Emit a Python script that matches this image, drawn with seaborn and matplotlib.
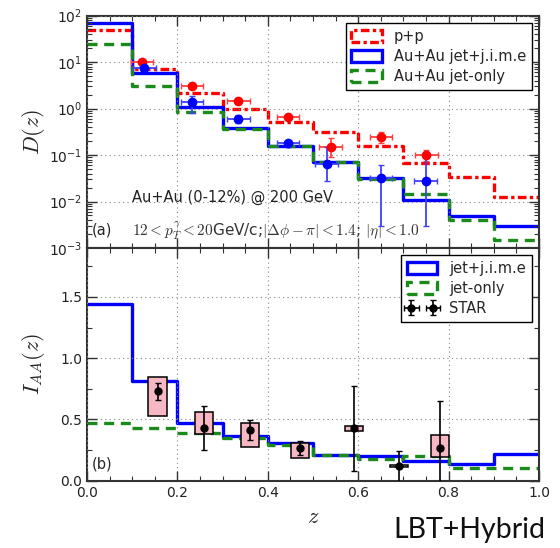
import numpy as np
import pandas as pd
import matplotlib
matplotlib.use("Agg")
import matplotlib.pyplot as plt
import seaborn as sns
from matplotlib.patches import Patch
from matplotlib.ticker import MultipleLocator, FormatStrFormatter, LogLocator, NullFormatter

# ---------------- data ----------------
bin_edges = [0.0, 0.1, 0.2, 0.3, 0.4, 0.5, 0.6, 0.7, 0.8, 0.9, 1.0]

# panel (a): D(z)
pp_D = [49, 7.0, 2.2, 1.0, 0.52, 0.32, 0.16, 0.066, 0.034, 0.0126]
auau_jime_D = [70, 5.7, 1.06, 0.375, 0.158, 0.070, 0.0315, 0.0108, 0.00495, 0.0029]
auau_jet_D = [24, 3.1, 0.85, 0.36, 0.155, 0.069, 0.030, 0.0143, 0.0040, 0.0015]

star_pp_z = [0.122, 0.232, 0.335, 0.445, 0.539, 0.650, 0.751]
star_pp_D = [10.0, 3.1, 1.45, 0.66, 0.148, 0.245, 0.100]
star_pp_lo = [1.2, 0.4, 0.15, 0.07, 0.057, 0.067, 0.026]
star_pp_hi = [1.5, 0.5, 0.2, 0.08, 0.086, 0.07, 0.029]

star_auau_z = [0.127, 0.232, 0.335, 0.445, 0.530, 0.650, 0.749]
star_auau_D = [7.3, 1.36, 0.59, 0.179, 0.063, 0.0315, 0.0275]
star_auau_lo = [1.0, 0.57, 0.10, 0.028, 0.0355, 0.0286, 0.0246]
star_auau_hi = [1.2, 0.52, 0.13, 0.016, 0.088, 0.0295, 0.0725]
star_zerr = 0.025

# panel (b): I_AA(z)
jime_IAA = [1.445, 0.813, 0.47, 0.362, 0.31, 0.212, 0.198, 0.158, 0.133, 0.22]
jet_IAA = [0.47, 0.433, 0.389, 0.351, 0.29, 0.207, 0.174, 0.201, 0.106, 0.106]

star_iaa_z = [0.156, 0.259, 0.361, 0.471, 0.591, 0.690, 0.781]
star_iaa = [0.731, 0.433, 0.41, 0.269, 0.43, 0.119, 0.269]
star_iaa_lo = [0.07, 0.18, 0.08, 0.062, 0.354, 0.20, 0.35]
star_iaa_hi = [0.066, 0.176, 0.082, 0.052, 0.342, 0.123, 0.378]
sys_lo = [0.525, 0.378, 0.274, 0.18, 0.402, 0.109, 0.188]
sys_hi = [0.846, 0.56, 0.473, 0.307, 0.446, 0.129, 0.37]
sys_width = 0.04

# ---------------- style ----------------
sns.set_theme(style="white")
plt.rcParams["font.family"] = ["DejaVu Sans"]
plt.rcParams["mathtext.fontset"] = "cm"

centers = [(a + b) / 2 for a, b in zip(bin_edges[:-1], bin_edges[1:])]

fig = plt.figure(figsize=(5.6, 5.48), dpi=100)
W, H = 560.0, 548.0
x0, x1 = 87.0, 539.0
ya0, ya1 = 15.5, 248.0
yb0, yb1 = 248.0, 480.5
ax1 = fig.add_axes([x0 / W, 1 - ya1 / H, (x1 - x0) / W, (ya1 - ya0) / H])
ax2 = fig.add_axes([x0 / W, 1 - yb1 / H, (x1 - x0) / W, (yb1 - yb0) / H], sharex=ax1)

RED = "#ff0000"
BLUE = "#0000ff"
GREEN = "#1a8a1a"
DASHDOT = (0, (2.6, 1.0, 1.0, 1.0))
DASH = (0, (3.0, 2.0))
LW = 2.4

def steps(ax, vals, color, ls, label):
    df = pd.DataFrame({"z": centers, "w": vals})
    sns.histplot(data=df, x="z", weights="w", bins=bin_edges, element="step",
                 fill=False, color=color, linewidth=LW, linestyle=ls, ax=ax,
                 label=label, legend=False)

# ---- panel (a) ----
steps(ax1, pp_D, RED, DASHDOT, "p+p")
steps(ax1, auau_jime_D, BLUE, "-", "Au+Au jet+j.i.m.e")
steps(ax1, auau_jet_D, GREEN, DASH, "Au+Au jet-only")
ax1.set_yscale("log")

ax1.errorbar(star_pp_z, star_pp_D, xerr=star_zerr, yerr=[star_pp_lo, star_pp_hi],
             fmt="o", color=RED, ms=6, elinewidth=1.3, capsize=2.5, ecolor=(1, 0.25, 0.25), zorder=5)
ax1.errorbar(star_auau_z, star_auau_D, xerr=star_zerr, yerr=[star_auau_lo, star_auau_hi],
             fmt="o", color=BLUE, ms=6, elinewidth=1.3, capsize=2.5, ecolor=(0.25, 0.25, 1), zorder=5)

ax1.set_xlim(0, 1.0)
ax1.set_ylim(1e-3, 1e2)
ax1.set_ylabel("$D(z)$", fontsize=16)
ax1.yaxis.set_label_coords(-0.088, 0.5)
ax1.set_xlabel("")
ax1.yaxis.set_major_locator(LogLocator(base=10, numticks=10))
ax1.yaxis.set_minor_locator(LogLocator(base=10, subs=np.arange(2, 10), numticks=20))
ax1.yaxis.set_minor_formatter(NullFormatter())

h1 = [Patch(facecolor="none", edgecolor=RED, linestyle=DASHDOT, linewidth=LW, label="p+p"),
      Patch(facecolor="none", edgecolor=BLUE, linestyle="-", linewidth=LW, label="Au+Au jet+j.i.m.e"),
      Patch(facecolor="none", edgecolor=GREEN, linestyle=DASH, linewidth=LW, label="Au+Au jet-only")]
leg1 = ax1.legend(handles=h1, loc="upper right", fontsize=10.5, frameon=True, fancybox=False,
                  edgecolor="black", framealpha=1, handlelength=2.1, handleheight=0.9,
                  borderaxespad=0.5, labelspacing=0.35)
leg1.get_frame().set_linewidth(1.0)

ax1.text(0.099, 0.219, "Au+Au (0-12%) @ 200 GeV", transform=ax1.transAxes,
         fontsize=10.5, va="center", ha="left", color="#222222")
ax1.text(0.011, 0.077, "(a)", transform=ax1.transAxes, fontsize=10.5, va="center", ha="left")
ax1.text(0.099, 0.077,
         r"$12 < p_T^{\gamma} < 20$GeV/c;$|\Delta\phi - \pi| < 1.4$; $|\eta| < 1.0$",
         transform=ax1.transAxes, fontsize=11, va="center", ha="left", color="#333333")

# ---- panel (b) ----
steps(ax2, jime_IAA, BLUE, "-", "jet+j.i.m.e")
steps(ax2, jet_IAA, GREEN, DASH, "jet-only")
ax2.bar(star_iaa_z, height=np.subtract(sys_hi, sys_lo), bottom=sys_lo, width=sys_width,
        color="#f7b8c4", edgecolor="black", linewidth=1.1, zorder=3)
ax2.errorbar(star_iaa_z, star_iaa, yerr=[star_iaa_lo, star_iaa_hi], fmt="o", color="black",
             ms=5, elinewidth=1.2, capsize=2.5, zorder=5)
star_proxy = ax2.errorbar([np.nan], [np.nan], xerr=[0.02], yerr=[0.05], fmt="o", color="black",
                          ms=5, elinewidth=1.2, capsize=2.5, label="STAR")

ax2.set_xlim(0, 1.0)
ax2.set_ylim(0, 1.9)
ax2.set_ylabel("$I_{AA}(z)$", fontsize=16)
ax2.yaxis.set_label_coords(-0.088, 0.5)
ax2.set_xlabel("$z$", fontsize=16)
ax2.xaxis.set_label_coords(0.5, -0.112)
ax2.yaxis.set_major_locator(MultipleLocator(0.5))
ax2.yaxis.set_minor_locator(MultipleLocator(0.25))
ax2.yaxis.set_major_formatter(FormatStrFormatter("%.1f"))
ax2.xaxis.set_major_locator(MultipleLocator(0.2))
ax2.xaxis.set_minor_locator(MultipleLocator(0.05))
ax2.xaxis.set_major_formatter(FormatStrFormatter("%.1f"))

h2 = [Patch(facecolor="none", edgecolor=BLUE, linestyle="-", linewidth=LW, label="jet+j.i.m.e"),
      Patch(facecolor="none", edgecolor=GREEN, linestyle=DASH, linewidth=LW, label="jet-only"),
      star_proxy]
leg2 = ax2.legend(handles=h2, labels=["jet+j.i.m.e", "jet-only", "STAR"], loc="upper right",
                  fontsize=10.5, frameon=True, fancybox=False, edgecolor="black", framealpha=1,
                  handlelength=2.1, handleheight=0.9, borderaxespad=0.5, labelspacing=0.35,
                  numpoints=2)
leg2.get_frame().set_linewidth(1.0)
ax2.text(0.011, 0.071, "(b)", transform=ax2.transAxes, fontsize=10.5, va="center", ha="left")

for ax in (ax1, ax2):
    ax.grid(True, which="major", linestyle=(0, (1, 3)), color="#888888", linewidth=0.8)
    ax.set_axisbelow(False)
    for s in ax.spines.values():
        s.set_linewidth(1.5)
        s.set_color("#333333")
    ax.tick_params(which="both", direction="in", top=True, right=True, color="#333333",
                   labelsize=10, labelcolor="#222222")
    ax.tick_params(which="major", length=7, width=1.0)
    ax.tick_params(which="minor", length=3.5, width=0.8)
    ax.tick_params(axis="x", which="both", bottom=True)
    ax.tick_params(axis="y", which="both", left=True)
ax1.tick_params(axis="x", which="both", labelbottom=False, labeltop=False)
ax2.tick_params(axis="x", pad=4)

fig.text(393 / W, 1 - 538 / H, "LBT+Hybrid", fontsize=20.5, family=["Lato", "DejaVu Sans"],
         ha="left", va="baseline", color="#111111")

fig.savefig("out.png", dpi=100, facecolor="white")
